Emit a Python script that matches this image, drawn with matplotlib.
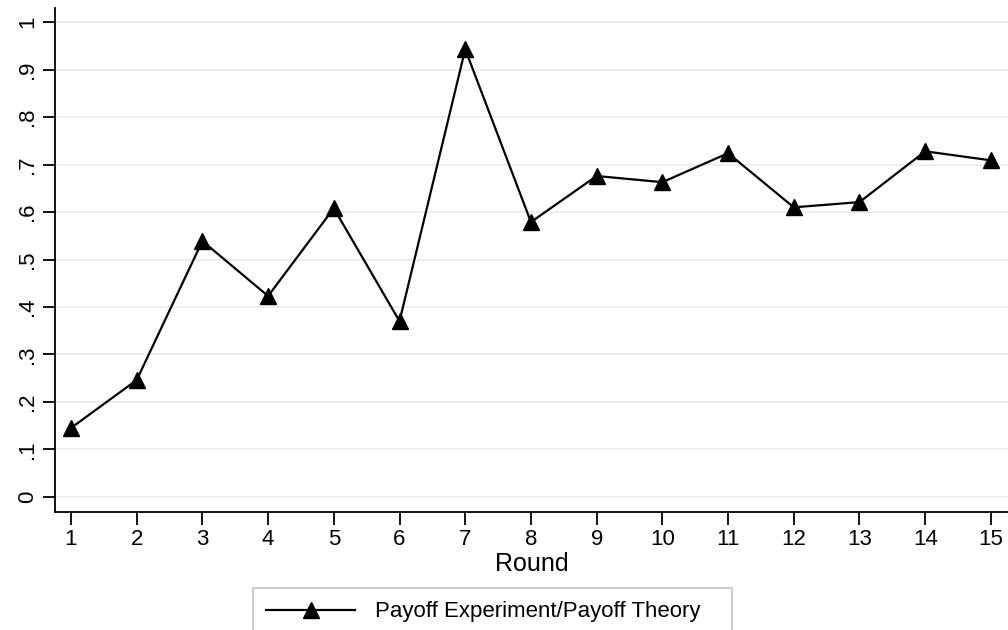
import matplotlib.pyplot as plt

plt.rcParams['font.family'] = ['Liberation Sans', 'DejaVu Sans']

rounds = list(range(1, 16))
ratio = [0.145, 0.246, 0.539, 0.423, 0.608, 0.370, 0.943, 0.579,
         0.676, 0.663, 0.724, 0.610, 0.621, 0.728, 0.709]
yticks = [0, 0.1, 0.2, 0.3, 0.4, 0.5, 0.6, 0.7, 0.8, 0.9, 1.0]
ylabels = ["0", ".1", ".2", ".3", ".4", ".5", ".6", ".7", ".8", ".9", "1"]
series_label = "Payoff Experiment/Payoff Theory"

fig = plt.figure(figsize=(10.08, 6.3), dpi=100)
ax = fig.add_axes([55 / 1008, 118 / 630, 953 / 1008, 504 / 630])

ax.plot(rounds, ratio, color="black", lw=1.6, marker="^", ms=11,
        mfc="black", mec="black", label=series_label, zorder=3)

ax.set_xlim(0.757, 15.26)
ax.set_ylim(-0.032, 1.03)
ax.set_xticks(rounds)
ax.set_yticks(yticks)
ax.set_yticklabels(ylabels, rotation=90, va="center")
ax.tick_params(axis="both", labelsize=16, length=9, width=1.3, color="black")
ax.tick_params(axis="x", pad=3)
ax.tick_params(axis="y", pad=3)
ax.grid(axis="y", color="#e8f0f2", lw=1.5, zorder=0)
ax.set_axisbelow(True)
for s in ["top", "right"]:
    ax.spines[s].set_visible(False)
for s in ["left", "bottom"]:
    ax.spines[s].set_linewidth(1.3)
ax.set_xlabel("Round", fontsize=18, labelpad=2)

leg = fig.legend(loc="upper left", bbox_to_anchor=(253 / 1008, 0, 479 / 1008, 42 / 630),
                 mode="expand", fontsize=16, handlelength=4.0, handletextpad=0.9,
                 borderpad=0.6, borderaxespad=0, fancybox=False, frameon=True)
leg.get_frame().set_edgecolor("#b4b4b4")
leg.get_frame().set_linewidth(1.2)

fig.savefig("out.png", dpi=100)
